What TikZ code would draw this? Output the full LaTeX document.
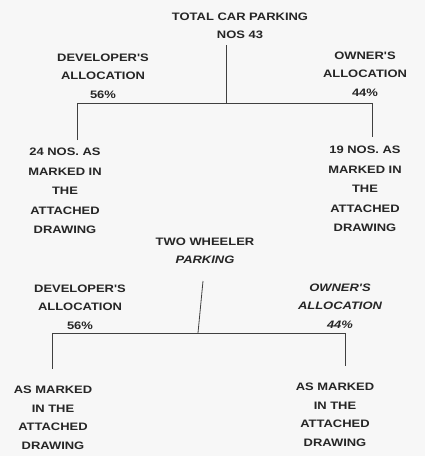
\documentclass[tikz,border=0pt]{standalone}
\usepackage{fontspec}
\newfontfamily\wide[FakeStretch=1.2,UprightFont=* Bold,ItalicFont=* Bold Italic]{Liberation Sans}
\begin{document}
\begin{tikzpicture}[x=1pt,y=-1pt,
  lbl/.style={inner sep=0pt,align=center,text=black!85,font=\wide\fontsize{10.8}{18.5}\selectfont},
  lblb/.style={lbl,font=\wide\fontsize{10.8}{19.5}\selectfont},
  conn/.style={draw=black!75,line width=0.8pt}]
\fill[gray!6] (0,0) rectangle (425,456);
\useasboundingbox (0,0) rectangle (425,456);
% top tree
\node[lbl] (total) at (240,26) {TOTAL CAR PARKING\\NOS 43};
\node[lbl] (devA) at (103,76) {DEVELOPER'S\\ALLOCATION\\56\%};
\node[lbl] (ownA) at (365,74) {OWNER'S\\ALLOCATION\\44\%};
\node[lblb] (devB) at (65,191) {24 NOS. AS\\MARKED IN\\THE\\ATTACHED\\DRAWING};
\node[lblb] (ownB) at (365,189) {19 NOS. AS\\MARKED IN\\THE\\ATTACHED\\DRAWING};
\coordinate (t1) at (226,45);
\coordinate (j1) at (226,103);
\coordinate (l1) at (77,103);
\coordinate (r1) at (372,103);
\coordinate (l1b) at (77,140);
\coordinate (r1b) at (372,137);
\draw[conn] (t1) -- (j1);
\draw[conn] (l1b) -- (l1) -- (r1) -- (r1b);
% bottom tree
\node[lbl] (two) at (205,251) {TWO WHEELER\\\itshape PARKING};
\node[lbl,font=\wide\itshape\fontsize{10.8}{18.5}\selectfont] (ownC) at (340,306) {OWNER'S\\ALLOCATION\\44\%};
\node[lbl] (devC) at (80,307) {DEVELOPER'S\\ALLOCATION\\56\%};
\node[lbl] (devD) at (53,418) {AS MARKED\\IN THE\\ATTACHED\\DRAWING};
\node[lbl] (ownD) at (335,415) {AS MARKED\\IN THE\\ATTACHED\\DRAWING};
\coordinate (t2) at (203,281);
\coordinate (j2) at (198,333);
\coordinate (l2) at (52,333);
\coordinate (r2) at (345,333);
\coordinate (l2b) at (52,369);
\coordinate (r2b) at (345,366);
\draw[conn] (t2) -- (j2);
\draw[conn] (l2b) -- (l2) -- (r2) -- (r2b);
\end{tikzpicture}
\end{document}
